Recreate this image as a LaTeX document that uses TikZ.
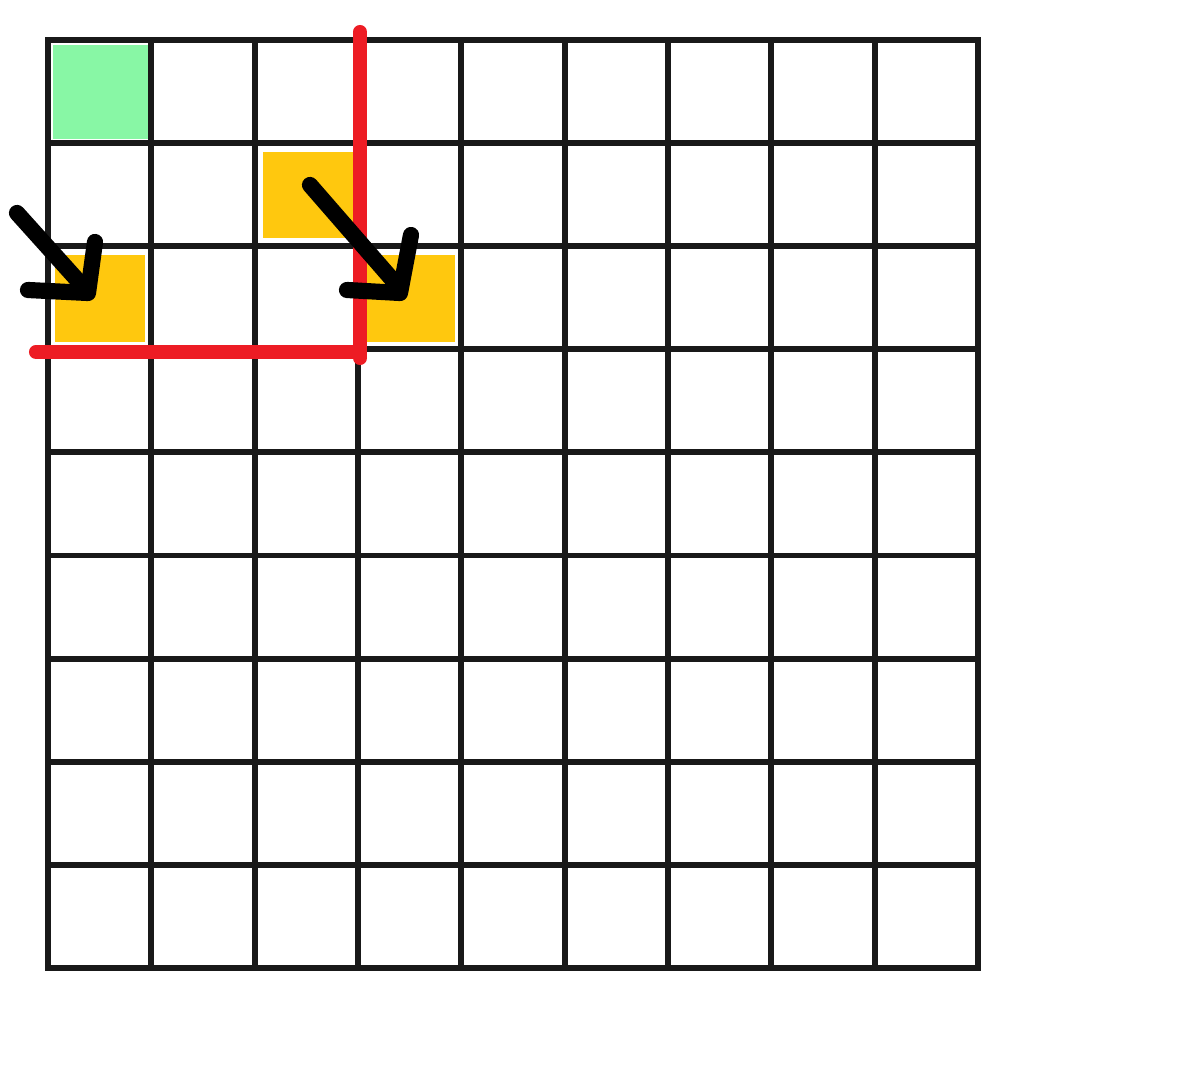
\documentclass[tikz,border=0pt]{standalone}
\begin{document}
\begin{tikzpicture}[x=0.01cm,y=-0.01cm,
  gridline/.style={line width=1.7pt,black!90},
  redline/.style={line width=4pt,draw={rgb,255:red,237;green,28;blue,36},line cap=round},
  stroke/.style={line width=4.6pt,black,line cap=round,line join=round}]
\definecolor{cellgreen}{RGB}{136,247,165}
\definecolor{cellyellow}{RGB}{255,200,14}
\useasboundingbox (0,0) rectangle (1200,1080);
% coloured cells
\fill[cellgreen] (53,45) rectangle (148,139);
\fill[cellyellow] (263,152) rectangle (356,238);
\fill[cellyellow] (55,255) rectangle (145,342);
\fill[cellyellow] (366,255) rectangle (455,342);
% grid
\foreach \i in {1,...,8}{
  \draw[gridline] ({48+\i*103.33},40) -- ({48+\i*103.33},968);
  \draw[gridline] (48,{40+\i*103.1}) -- (978,{40+\i*103.1});
}
\draw[gridline] (48,40) rectangle (978,968);
% red lines
\draw[redline] (360,32) -- (360,358);
\draw[redline] (36,352) -- (360,352);
% arrows
\draw[stroke] (17,213) -- (80,283);
\draw[stroke] (28,290) -- (88,293) -- (95,242);
\draw[stroke] (310,185) -- (397,285);
\draw[stroke] (347,290) -- (400,293) -- (411,235);
\end{tikzpicture}
\end{document}
